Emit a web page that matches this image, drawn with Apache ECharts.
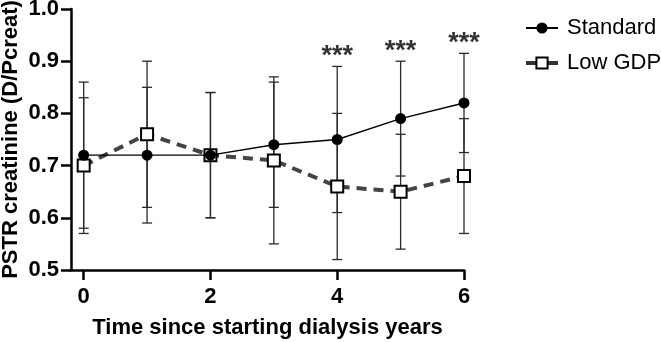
<!DOCTYPE html>
<html>
<head>
<meta charset="utf-8">
<script src="https://cdn.jsdelivr.net/npm/echarts@6/dist/echarts.min.js"></script>
<style>
  html, body { margin: 0; padding: 0; background: #fff; }
  #chart { width: 661px; height: 342px; }
</style>
</head>
<body>
<div id="chart"></div>
<script>
// years since start of dialysis
var years = [0, 1, 2, 3, 4, 5, 6];
var xTicks = [0, 2, 4, 6];

// PSTR creatinine, mean and SD per group
var standardMean = [0.72, 0.72, 0.72, 0.74, 0.75, 0.79, 0.82];
var standardSD = [0.14, 0.13, 0.12, 0.12, 0.14, 0.11, 0.095];
var lowGdpMean = [0.70, 0.76, 0.72, 0.71, 0.66, 0.65, 0.68];
var lowGdpSD = [0.13, 0.14, 0.12, 0.16, 0.14, 0.11, 0.11];

// significance marks (above the standard group's bar)
var sigYears = [4, 5, 6];
var sigText = '***';

var FONT = '"Liberation Sans", Arial, sans-serif';

function errData(mean, sd) {
  return years.map(function (x, i) {
    return [x, +(mean[i] - sd[i]).toFixed(3), +(mean[i] + sd[i]).toFixed(3)];
  });
}

function errBar(params, api) {
  var x = api.value(0);
  var top = api.coord([x, api.value(2)]);
  var bot = api.coord([x, api.value(1)]);
  var w = 5;
  var st = {stroke: '#2a2a2a', lineWidth: 1.3};
  return {
    type: 'group',
    children: [
      {type: 'line', shape: {x1: top[0], y1: top[1], x2: bot[0], y2: bot[1]}, style: st},
      {type: 'line', shape: {x1: top[0] - w, y1: top[1], x2: top[0] + w, y2: top[1]}, style: st},
      {type: 'line', shape: {x1: bot[0] - w, y1: bot[1], x2: bot[0] + w, y2: bot[1]}, style: st}
    ]
  };
}

var chart = echarts.init(document.getElementById('chart'));

chart.setOption({
  animation: false,
  textStyle: {fontFamily: FONT},
  grid: {left: 71, right: 197, top: 9, bottom: 72, outerBoundsMode: 'none'},
  legend: {
    data: [
      {name: 'Standard'},
      {name: 'Low GDP', lineStyle: {type: 'solid', width: 4, color: '#333'}}
    ],
    orient: 'vertical',
    left: 519,
    top: 12,
    itemWidth: 32,
    itemHeight: 14,
    itemGap: 13,
    textStyle: {fontSize: 22, color: '#000', fontFamily: FONT, padding: [0, 0, 0, 4]}
  },
  xAxis: {
    type: 'value',
    min: -0.2,
    max: 6,
    name: 'Time since starting dialysis years',
    nameLocation: 'middle',
    nameGap: 47,
    nameMoveOverlap: false,
    nameTextStyle: {fontSize: 22, fontWeight: 'bold', color: '#000', fontFamily: FONT},
    axisLine: {onZero: false, lineStyle: {color: '#000', width: 2.5}},
    axisTick: {show: true, length: 10, lineStyle: {color: '#000', width: 2.5}, customValues: xTicks},
    axisLabel: {
      customValues: xTicks,
      margin: 16,
      fontSize: 22,
      fontWeight: 'bold',
      color: '#000',
      fontFamily: FONT
    },
    splitLine: {show: false}
  },
  yAxis: {
    type: 'value',
    position: 'left',
    min: 0.5,
    max: 1.0,
    interval: 0.1,
    name: 'PSTR creatinine (D/Pcreat)',
    nameLocation: 'middle',
    nameGap: 49,
    nameMoveOverlap: false,
    nameTextStyle: {fontSize: 22, fontWeight: 'bold', color: '#000', fontFamily: FONT},
    axisLine: {show: true, onZero: false, lineStyle: {color: '#000', width: 2.5}},
    axisTick: {show: true, length: 10, lineStyle: {color: '#000', width: 2.5}},
    axisLabel: {
      margin: 12,
      fontSize: 22,
      fontWeight: 'bold',
      color: '#000',
      fontFamily: FONT,
      formatter: function (v) { return v.toFixed(1); }
    },
    splitLine: {show: false}
  },
  series: [
    {
      type: 'custom',
      name: 'err-std',
      renderItem: errBar,
      encode: {x: 0, y: [1, 2]},
      data: errData(standardMean, standardSD),
      z: 1,
      silent: true
    },
    {
      type: 'custom',
      name: 'err-low',
      renderItem: errBar,
      encode: {x: 0, y: [1, 2]},
      data: errData(lowGdpMean, lowGdpSD),
      z: 1,
      silent: true
    },
    {
      name: 'Low GDP',
      type: 'line',
      data: years.map(function (x, i) { return [x, lowGdpMean[i]]; }),
      symbol: 'rect',
      symbolSize: 12,
      showAllSymbol: true,
      lineStyle: {color: '#444', width: 4, type: [10, 7]},
      itemStyle: {color: '#fff', borderColor: '#000', borderWidth: 2},
      z: 3
    },
    {
      name: 'Standard',
      type: 'line',
      data: years.map(function (x, i) { return [x, standardMean[i]]; }),
      symbol: 'circle',
      symbolSize: 11,
      showAllSymbol: true,
      lineStyle: {color: '#000', width: 1.4},
      itemStyle: {color: '#000', borderWidth: 0},
      z: 4
    },
    {
      type: 'scatter',
      name: 'sig',
      symbolSize: 0,
      silent: true,
      data: sigYears.map(function (x) {
        var i = years.indexOf(x);
        return [x, standardMean[i] + standardSD[i]];
      }),
      label: {
        show: true,
        position: 'top',
        distance: -4,
        formatter: sigText,
        fontSize: 27,
        fontWeight: 'bold',
        color: '#000',
        fontFamily: FONT
      },
      z: 5
    }
  ]
});
</script>
</body>
</html>
